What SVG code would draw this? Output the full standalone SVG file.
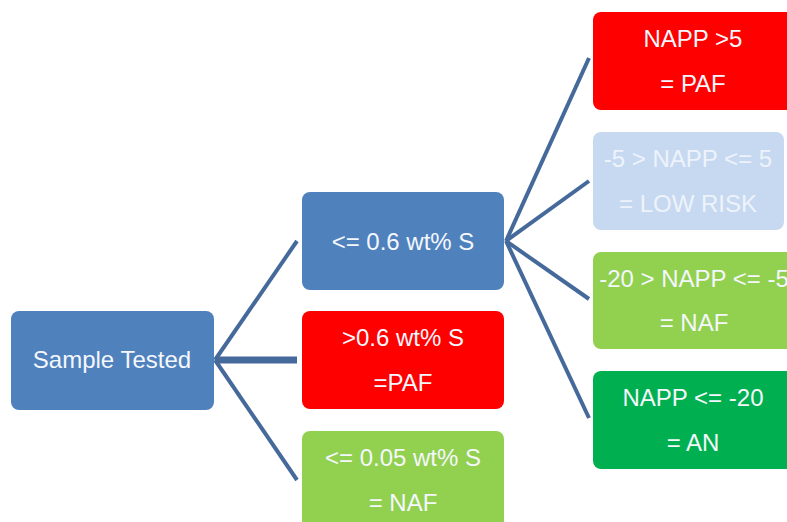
<svg xmlns="http://www.w3.org/2000/svg" width="787" height="522" viewBox="0 0 787 522">
<style>
text{font-family:"Liberation Sans",Arial,sans-serif;font-size:24px;fill:#f4f7fc;text-anchor:middle}
.low{fill:#eef3fb}
.c{stroke:#44699a;stroke-width:4;fill:none;stroke-linecap:butt}
.blue{fill:#4f81bd}.red{fill:#ff0000}.lg{fill:#92d050}.dg{fill:#00b050}.lb{fill:#c6d9f1}
</style>
<rect width="787" height="522" fill="#ffffff"/>
<g id="connectors">
<line class="c" x1="215" y1="360" x2="297" y2="241"/>
<line class="c" x1="215" y1="360" x2="297" y2="360" style="stroke-width:7"/>
<line class="c" x1="215" y1="360" x2="297" y2="480"/>
<line class="c" x1="506" y1="241" x2="589" y2="58"/>
<line class="c" x1="506" y1="241" x2="589" y2="181"/>
<line class="c" x1="506" y1="241" x2="589" y2="299"/>
<line class="c" x1="506" y1="241" x2="589" y2="418"/>
</g>
<g id="sample"><rect class="blue" x="11" y="311" width="203" height="99" rx="8"/><text x="112" y="368">Sample Tested</text></g>
<g id="le06"><rect class="blue" x="302" y="192" width="202" height="98" rx="8"/><text x="403" y="250">&lt;= 0.6 wt% S</text></g>
<g id="gt06"><rect class="red" x="302" y="311" width="202" height="98" rx="8"/><text x="403" y="346">&gt;0.6 wt% S</text><text x="403" y="391">=PAF</text></g>
<g id="le005"><rect class="lg" x="302" y="431" width="202" height="98" rx="8"/><text x="403" y="466">&lt;= 0.05 wt% S</text><text x="403" y="511">= NAF</text></g>
<g id="paf"><rect class="red" x="593" y="12" width="203" height="98" rx="8"/><text x="693" y="47">NAPP &gt;5</text><text x="693" y="92">= PAF</text></g>
<g id="lowrisk"><rect class="lb" x="593" y="132" width="191" height="98" rx="8"/><text class="low" x="688" y="167">-5 &gt; NAPP &lt;= 5</text><text class="low" x="688" y="212">= LOW RISK</text></g>
<g id="naf"><rect class="lg" x="593" y="252" width="203" height="97" rx="8"/><text x="694" y="287">-20 &gt; NAPP &lt;= -5</text><text x="694" y="331">= NAF</text></g>
<g id="an"><rect class="dg" x="593" y="371" width="203" height="98" rx="8"/><text x="693" y="406">NAPP &lt;= -20</text><text x="693" y="451">= AN</text></g>
</svg>
